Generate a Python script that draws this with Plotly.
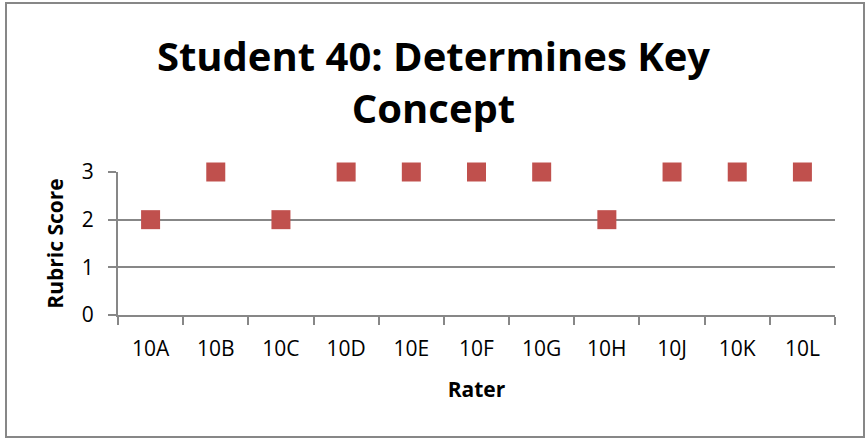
import plotly.graph_objects as go

raters = ["10A", "10B", "10C", "10D", "10E", "10F", "10G", "10H", "10J", "10K", "10L"]
scores = [2, 3, 2, 3, 3, 3, 3, 2, 3, 3, 3]
y_ticks = [0, 1, 2, 3]

FONT = "Open Sans"
GRAY = "#878787"

L, R, T, B = 118, 32, 172, 124
PW, PH = 867 - L - R, 439 - T - B


def px_x(p):
    return (p - L) / PW


def px_y(p):
    return (439 - B - p) / PH


fig = go.Figure()
fig.add_trace(go.Scatter(
    x=raters, y=scores, mode="markers",
    marker=dict(symbol="square", size=19, color="#C0504D", line=dict(width=0)),
    showlegend=False, cliponaxis=False,
))

fig.update_layout(
    width=867, height=439,
    margin=dict(l=L, r=R, t=T, b=B, autoexpand=False),
    paper_bgcolor="white", plot_bgcolor="white",
    title=dict(text="<b>Student 40: Determines Key<br>Concept</b>",
               x=0.5, xanchor="center", y=1 - 71 / 439, yanchor="middle",
               font=dict(family=FONT, size=40, color="black")),
    font=dict(family=FONT, color="black"),
    xaxis=dict(
        type="category", range=[-0.5, 10.5], tickson="boundaries",
        ticks="outside", ticklen=8, tickwidth=2, tickcolor=GRAY,
        showline=True, linecolor=GRAY, linewidth=2, showgrid=False,
        tickfont=dict(family=FONT, size=21), ticklabelstandoff=14,
        title=dict(text="<b>Rater</b>", font=dict(family=FONT, size=21), standoff=21),
    ),
    yaxis=dict(
        range=[0, 3], tickvals=y_ticks, ticks="outside", ticklen=8, tickwidth=2,
        tickcolor=GRAY, showline=True, linecolor=GRAY, linewidth=2,
        showgrid=True, gridcolor=GRAY, gridwidth=2, zeroline=False,
        tickfont=dict(family=FONT, size=21), ticklabelstandoff=10,
        title=dict(text="<b>Rubric Score</b>", font=dict(family=FONT, size=21), standoff=12),
    ),
    shapes=[dict(type="rect", xref="paper", yref="paper",
                 x0=px_x(6), x1=px_x(864), y0=px_y(437), y1=px_y(3),
                 line=dict(color=GRAY, width=2), layer="below")],
)

fig.write_html("out.html", config={"displayModeBar": False},
               post_script="document.body.style.margin='0';")
